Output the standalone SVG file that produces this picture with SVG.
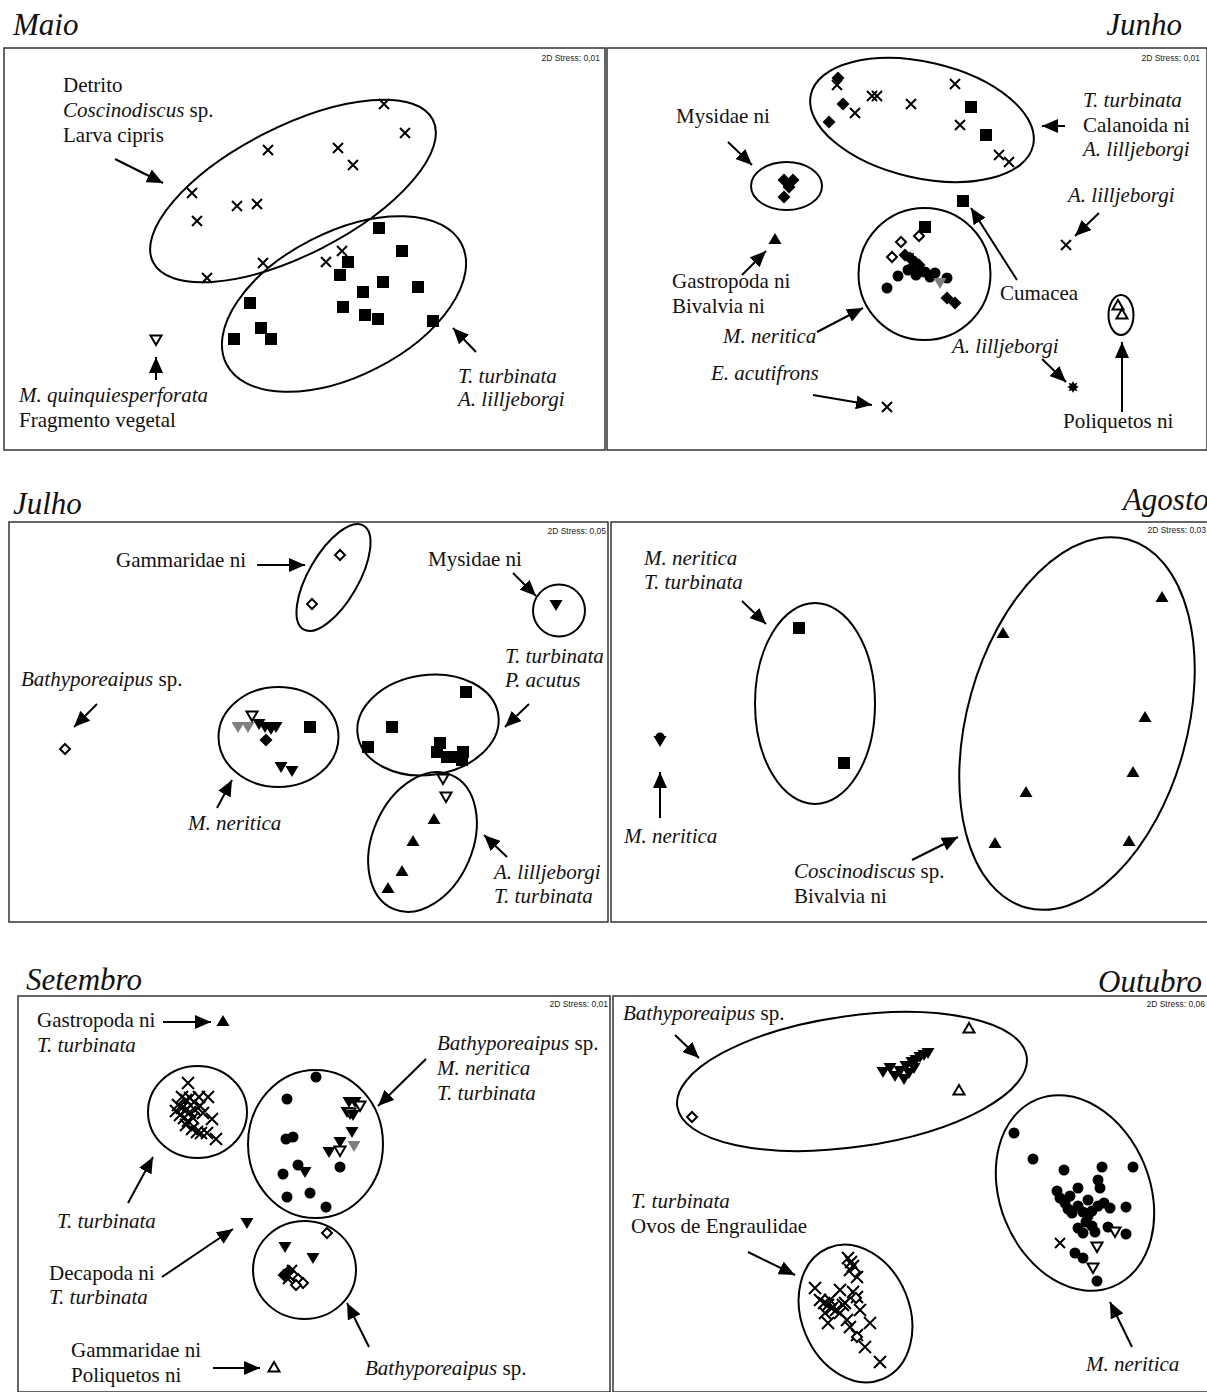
<svg xmlns="http://www.w3.org/2000/svg" width="1207" height="1392" viewBox="0 0 1207 1392">
<style>
  .frame { fill: none; stroke: #333; stroke-width: 1.5; }
  .hull { fill: none; stroke: #000; stroke-width: 2; }
  .lb { font-family: "Liberation Serif", "Times New Roman", serif; font-size: 21px; fill: #111; }
  .it { font-style: italic; }
  .ttl { font-family: "Liberation Serif", "Times New Roman", serif; font-size: 31px; font-style: italic; fill: #111; }
  .st { font-family: "Liberation Sans", Arial, sans-serif; font-size: 8.5px; fill: #222; text-anchor: end; }
  .arr { stroke: #000; stroke-width: 2; fill: none; marker-end: url(#head); }
  .f { fill: #000; }
  .g { fill: #808080; }
  .o { fill: #fff; stroke: #000; stroke-width: 2; }
  .x { stroke: #000; stroke-width: 2; fill: none; }
</style>
<defs>
  <marker id="head" markerUnits="userSpaceOnUse" markerWidth="16" markerHeight="14" viewBox="0 0 16 14" refX="16" refY="7" orient="auto">
    <path d="M0,0 L16,7 L0,14 z" fill="#000"/>
  </marker>
  <rect id="sq" class="f" x="-6" y="-6" width="12" height="12"/>
  <path id="cr" class="x" d="M-5,-5 L5,5 M-5,5 L5,-5"/>
  <path id="crL" class="x" d="M-6,-6 L6,6 M-6,6 L6,-6"/>
  <polygon id="tu" class="f" points="0,-6 6.5,5 -6.5,5"/>
  <polygon id="td" class="f" points="-6.5,-5 6.5,-5 0,6"/>
  <polygon id="gtd" class="g" points="-6.5,-5 6.5,-5 0,6"/>
  <polygon id="otu" class="o" points="0,-5 5.5,4.5 -5.5,4.5"/>
  <polygon id="otd" class="o" points="-5.5,-4.5 5.5,-4.5 0,5"/>
  <polygon id="od" class="o" points="0,-5 5,0 0,5 -5,0"/>
  <polygon id="fd" class="f" points="0,-6.5 6.5,0 0,6.5 -6.5,0"/>
  <circle id="ci" class="f" r="5.5"/>
  <polygon id="sr" class="f" points="6,0 3.23,1.34 4.24,4.24 1.34,3.23 0,6 -1.34,3.23 -4.24,4.24 -3.23,1.34 -6,0 -3.23,-1.34 -4.24,-4.24 -1.34,-3.23 0,-6 1.34,-3.23 4.24,-4.24 3.23,-1.34"/>
</defs>

<rect width="1207" height="1392" fill="#fff"/>

<!-- ===== Maio ===== -->
<g id="maio">
  <text class="ttl" x="13" y="35">Maio</text>
  <rect class="frame" x="4" y="48" width="601" height="402"/>
  <text class="st" x="600" y="61">2D Stress: 0,01</text>
  <g id="maio-detrito">
    <ellipse class="hull" cx="293" cy="191" rx="157" ry="64" transform="rotate(-27 293 191)"/>
    <use href="#cr" x="268" y="150"/><use href="#cr" x="192" y="193"/><use href="#cr" x="237" y="206"/>
    <use href="#cr" x="257" y="204"/><use href="#cr" x="197" y="221"/><use href="#cr" x="263" y="263"/>
    <use href="#cr" x="207" y="278"/><use href="#cr" x="384" y="104"/><use href="#cr" x="405" y="133"/>
    <use href="#cr" x="338" y="148"/><use href="#cr" x="353" y="165"/><use href="#cr" x="342" y="251"/>
    <use href="#cr" x="326" y="262"/>
    <text class="lb" x="63" y="92">Detrito</text>
    <text class="lb" x="63" y="117"><tspan class="it">Coscinodiscus</tspan> sp.</text>
    <text class="lb" x="63" y="142">Larva cipris</text>
  </g>
  <g id="maio-turbinata">
    <ellipse class="hull" cx="344" cy="304" rx="132" ry="72" transform="rotate(-27 344 304)"/>
    <use href="#sq" x="379" y="228"/><use href="#sq" x="402" y="251"/><use href="#sq" x="348" y="262"/>
    <use href="#sq" x="340" y="275"/><use href="#sq" x="383" y="282"/><use href="#sq" x="418" y="287"/>
    <use href="#sq" x="363" y="292"/><use href="#sq" x="343" y="307"/><use href="#sq" x="365" y="315"/>
    <use href="#sq" x="378" y="319"/><use href="#sq" x="433" y="321"/><use href="#sq" x="250" y="303"/>
    <use href="#sq" x="261" y="328"/><use href="#sq" x="271" y="339"/><use href="#sq" x="234" y="339"/>
    <text class="lb it" x="458" y="383">T. turbinata</text>
    <text class="lb it" x="458" y="406">A. lilljeborgi</text>
  </g>
  <g id="maio-quinq">
    <use href="#otd" x="156" y="340"/>
    <text class="lb it" x="19" y="402">M. quinquiesperforata</text>
    <text class="lb" x="19" y="427">Fragmento vegetal</text>
  </g>
</g>

<!-- ===== Junho ===== -->
<g id="junho">
  <text class="ttl" x="1182" y="35" text-anchor="end">Junho</text>
  <rect class="frame" x="607" y="48" width="600" height="402"/>
  <text class="st" x="1200" y="61">2D Stress: 0,01</text>
  <g id="junho-top">
    <ellipse class="hull" cx="922" cy="120" rx="114" ry="58" transform="rotate(13 922 120)"/>
    <use href="#fd" x="838" y="78"/><use href="#fd" x="843" y="104"/><use href="#fd" x="829" y="122"/>
    <use href="#cr" x="837" y="85"/><use href="#cr" x="872" y="96"/><use href="#cr" x="877" y="96"/>
    <use href="#cr" x="855" y="113"/><use href="#cr" x="911" y="104"/><use href="#cr" x="955" y="84"/>
    <use href="#cr" x="960" y="125"/><use href="#cr" x="999" y="155"/><use href="#cr" x="1009" y="162"/>
    <use href="#sq" x="971" y="107"/><use href="#sq" x="986" y="135"/>
    <text class="lb it" x="1083" y="107">T. turbinata</text>
    <text class="lb" x="1083" y="132">Calanoida ni</text>
    <text class="lb it" x="1083" y="156">A. lilljeborgi</text>
  </g>
  <g id="junho-mysidae">
    <ellipse class="hull" cx="786.5" cy="186" rx="35.5" ry="24"/>
    <use href="#fd" x="784" y="180"/><use href="#fd" x="793" y="180"/><use href="#fd" x="789" y="187"/><use href="#fd" x="784" y="197"/>
    <text class="lb" x="676" y="123">Mysidae ni</text>
  </g>
  <g id="junho-gastropoda">
    <use href="#tu" x="775" y="239"/>
    <text class="lb" x="672" y="288">Gastropoda ni</text>
    <text class="lb" x="672" y="313">Bivalvia ni</text>
  </g>
  <g id="junho-neritica">
    <ellipse class="hull" cx="924.5" cy="274" rx="66" ry="66"/>
    <use href="#od" x="901" y="242"/><use href="#od" x="892" y="257"/><use href="#od" x="919" y="236"/>
    <use href="#sq" x="925" y="227"/>
    <use href="#fd" x="905" y="255"/><use href="#fd" x="911" y="259"/><use href="#fd" x="915" y="262"/>
    <use href="#fd" x="919" y="265"/><use href="#fd" x="912" y="267"/><use href="#fd" x="921" y="271"/>
    <use href="#sr" x="910" y="257"/>
    <use href="#ci" x="898" y="276"/><use href="#ci" x="887" y="288"/><use href="#ci" x="908" y="270"/>
    <use href="#ci" x="916" y="275"/><use href="#ci" x="925" y="272"/><use href="#ci" x="930" y="277"/>
    <use href="#ci" x="935" y="273"/><use href="#ci" x="947" y="278"/>
    <use href="#gtd" x="940" y="283"/>
    <use href="#fd" x="947" y="298"/><use href="#fd" x="955" y="303"/>
    <text class="lb it" x="723" y="343">M. neritica</text>
  </g>
  <g id="junho-cumacea">
    <use href="#sq" x="963" y="201"/>
    <text class="lb" x="1000" y="300">Cumacea</text>
  </g>
  <g id="junho-lillj1">
    <use href="#cr" x="1066" y="245"/>
    <text class="lb it" x="1068" y="202">A. lilljeborgi</text>
  </g>
  <g id="junho-lillj2">
    <use href="#sr" x="1073" y="387"/>
    <text class="lb it" x="952" y="353">A. lilljeborgi</text>
  </g>
  <g id="junho-acutifrons">
    <use href="#cr" x="887" y="407"/>
    <text class="lb it" x="711" y="380">E. acutifrons</text>
  </g>
  <g id="junho-poliquetos">
    <ellipse class="hull" cx="1121" cy="315" rx="12.5" ry="20"/>
    <use href="#otu" x="1118" y="305"/><use href="#otu" x="1122" y="314"/>
    <text class="lb" x="1063" y="428">Poliquetos ni</text>
  </g>
</g>

<!-- ===== Julho ===== -->
<g id="julho">
  <text class="ttl" x="13" y="514">Julho</text>
  <rect class="frame" x="9" y="522" width="599" height="400"/>
  <text class="st" x="606" y="534">2D Stress: 0,05</text>
  <g id="julho-gammaridae">
    <ellipse class="hull" cx="333.5" cy="577.5" rx="60" ry="25" transform="rotate(-60 333.5 577.5)"/>
    <use href="#od" x="340" y="555"/><use href="#od" x="312" y="604"/>
    <text class="lb" x="116" y="567">Gammaridae ni</text>
  </g>
  <g id="julho-mysidae">
    <circle class="hull" cx="559" cy="610.5" r="26"/>
    <use href="#td" x="556" y="605"/>
    <text class="lb" x="428" y="566">Mysidae ni</text>
  </g>
  <g id="julho-bathy">
    <use href="#od" x="65" y="749"/>
    <text class="lb" x="21" y="686"><tspan class="it">Bathyporeaipus</tspan> sp.</text>
  </g>
  <g id="julho-neritica">
    <ellipse class="hull" cx="278.5" cy="737" rx="60" ry="50"/>
    <use href="#gtd" x="238" y="727"/><use href="#gtd" x="248" y="727"/>
    <use href="#otd" x="252" y="716"/>
    <use href="#td" x="259" y="724"/><use href="#td" x="265" y="727"/><use href="#td" x="271" y="729"/><use href="#td" x="276" y="727"/>
    <use href="#fd" x="266" y="740"/>
    <use href="#td" x="281" y="767"/><use href="#td" x="292" y="771"/>
    <use href="#sq" x="310" y="727"/>
    <text class="lb it" x="188" y="830">M. neritica</text>
  </g>
  <g id="julho-acutus">
    <ellipse class="hull" cx="428" cy="725" rx="71" ry="50" transform="rotate(-8 428 725)"/>
    <use href="#sq" x="466" y="692"/><use href="#sq" x="392" y="727"/><use href="#sq" x="368" y="747"/>
    <use href="#sq" x="440" y="743"/><use href="#sq" x="437" y="752"/><use href="#sq" x="447" y="757"/>
    <use href="#sq" x="452" y="757"/><use href="#sq" x="463" y="752"/><use href="#sq" x="462" y="760"/>
    <text class="lb it" x="505" y="663">T. turbinata</text>
    <text class="lb it" x="505" y="687">P. acutus</text>
  </g>
  <g id="julho-lillj">
    <ellipse class="hull" cx="422.5" cy="842" rx="73" ry="50" transform="rotate(-66.5 422.5 842)"/>
    <use href="#otd" x="443" y="779"/><use href="#otd" x="446" y="797"/>
    <use href="#tu" x="434" y="819"/><use href="#tu" x="413" y="841"/><use href="#tu" x="402" y="871"/><use href="#tu" x="388" y="888"/>
    <text class="lb it" x="494" y="879">A. lilljeborgi</text>
    <text class="lb it" x="494" y="903">T. turbinata</text>
  </g>
</g>

<!-- ===== Agosto ===== -->
<g id="agosto">
  <text class="ttl" x="1209" y="510" text-anchor="end">Agosto</text>
  <rect class="frame" x="611" y="522" width="597" height="400"/>
  <text class="st" x="1206" y="533">2D Stress: 0,03</text>
  <g id="agosto-turbinata">
    <ellipse class="hull" cx="815" cy="703.5" rx="60" ry="100.5"/>
    <use href="#sq" x="799" y="628"/><use href="#sq" x="844" y="763"/>
    <text class="lb it" x="644" y="565">M. neritica</text>
    <text class="lb it" x="644" y="589">T. turbinata</text>
  </g>
  <g id="agosto-neritica">
    <circle class="f" cx="660" cy="737" r="4.5"/>
    <use href="#td" x="660" y="741"/>
    <text class="lb it" x="624" y="843">M. neritica</text>
  </g>
  <g id="agosto-cosci">
    <ellipse class="hull" cx="1077" cy="723.5" rx="191" ry="110" transform="rotate(-74.4 1077 723.5)"/>
    <use href="#tu" x="1162" y="597"/><use href="#tu" x="1003" y="633"/><use href="#tu" x="1145" y="717"/>
    <use href="#tu" x="1133" y="772"/><use href="#tu" x="1026" y="792"/><use href="#tu" x="995" y="843"/>
    <use href="#tu" x="1129" y="841"/>
    <text class="lb" x="794" y="878"><tspan class="it">Coscinodiscus</tspan> sp.</text>
    <text class="lb" x="794" y="903">Bivalvia ni</text>
  </g>
</g>

<!-- ===== Setembro ===== -->
<g id="setembro">
  <text class="ttl" x="26" y="990">Setembro</text>
  <rect class="frame" x="18" y="996" width="592" height="396"/>
  <text class="st" x="608" y="1007">2D Stress: 0,01</text>
  <g id="set-gastropoda">
    <use href="#tu" x="223" y="1021"/>
    <text class="lb" x="37" y="1027">Gastropoda ni</text>
    <text class="lb it" x="37" y="1052">T. turbinata</text>
  </g>
  <g id="set-turbinata">
    <ellipse class="hull" cx="197.5" cy="1112" rx="49.5" ry="46"/>
    <use href="#crL" x="188" y="1083"/><use href="#crL" x="182" y="1097"/><use href="#crL" x="186" y="1100"/>
    <use href="#crL" x="190" y="1098"/><use href="#crL" x="194" y="1102"/><use href="#crL" x="199" y="1097"/>
    <use href="#crL" x="208" y="1097"/><use href="#crL" x="178" y="1105"/><use href="#crL" x="182" y="1108"/>
    <use href="#crL" x="186" y="1110"/><use href="#crL" x="190" y="1112"/><use href="#crL" x="195" y="1110"/>
    <use href="#crL" x="200" y="1106"/><use href="#crL" x="203" y="1113"/><use href="#crL" x="180" y="1115"/>
    <use href="#crL" x="184" y="1118"/><use href="#crL" x="188" y="1121"/><use href="#crL" x="212" y="1119"/>
    <use href="#crL" x="186" y="1125"/><use href="#crL" x="192" y="1129"/><use href="#crL" x="197" y="1132"/>
    <use href="#crL" x="201" y="1133"/><use href="#crL" x="207" y="1133"/><use href="#crL" x="216" y="1139"/>
    <use href="#crL" x="176" y="1111"/><use href="#crL" x="193" y="1118"/>
    <text class="lb it" x="57" y="1228">T. turbinata</text>
  </g>
  <g id="set-neritica">
    <ellipse class="hull" cx="315.5" cy="1144" rx="67.5" ry="74"/>
    <use href="#ci" x="287" y="1099"/><use href="#ci" x="286" y="1139"/><use href="#ci" x="293" y="1137"/>
    <use href="#ci" x="283" y="1174"/><use href="#ci" x="298" y="1165"/><use href="#ci" x="287" y="1197"/>
    <use href="#ci" x="310" y="1193"/><use href="#ci" x="316" y="1077"/><use href="#ci" x="340" y="1167"/>
    <use href="#ci" x="326" y="1207"/>
    <use href="#td" x="349" y="1102"/><use href="#td" x="355" y="1102"/><use href="#otd" x="360" y="1106"/>
    <use href="#td" x="347" y="1112"/><use href="#otd" x="350" y="1113"/><use href="#td" x="353" y="1115"/>
    <use href="#td" x="352" y="1132"/><use href="#td" x="340" y="1142"/><use href="#td" x="329" y="1152"/>
    <use href="#otd" x="340" y="1151"/><use href="#gtd" x="354" y="1146"/><use href="#td" x="305" y="1172"/>
    <text class="lb it" x="437" y="1050"><tspan>Bathyporeaipus</tspan><tspan font-style="normal"> sp.</tspan></text>
    <text class="lb it" x="437" y="1075">M. neritica</text>
    <text class="lb it" x="437" y="1100">T. turbinata</text>
  </g>
  <g id="set-decapoda">
    <use href="#td" x="247" y="1223"/>
    <text class="lb" x="49" y="1280">Decapoda ni</text>
    <text class="lb it" x="49" y="1304">T. turbinata</text>
  </g>
  <g id="set-bathy">
    <ellipse class="hull" cx="304.5" cy="1270" rx="51.5" ry="49"/>
    <use href="#td" x="285" y="1247"/><use href="#td" x="313" y="1258"/><use href="#od" x="327" y="1233"/>
    <use href="#fd" x="284" y="1275"/><use href="#fd" x="289" y="1271"/>
    <use href="#cr" x="288" y="1279"/><use href="#cr" x="292" y="1270"/>
    <use href="#od" x="294" y="1276"/><use href="#od" x="298" y="1279"/><use href="#od" x="303" y="1283"/><use href="#od" x="296" y="1285"/>
    <text class="lb" x="365" y="1375"><tspan class="it">Bathyporeaipus</tspan> sp.</text>
  </g>
  <g id="set-gammaridae">
    <use href="#otu" x="274" y="1367"/>
    <text class="lb" x="71" y="1357">Gammaridae ni</text>
    <text class="lb" x="71" y="1382">Poliquetos ni</text>
  </g>
</g>

<!-- ===== Outubro ===== -->
<g id="outubro">
  <text class="ttl" x="1202" y="992" text-anchor="end">Outubro</text>
  <rect class="frame" x="613" y="996" width="595" height="396"/>
  <text class="st" x="1205" y="1007">2D Stress: 0,06</text>
  <g id="out-bathy">
    <ellipse class="hull" cx="852" cy="1081.5" rx="176.5" ry="65.5" transform="rotate(-8.1 852 1081.5)"/>
    <use href="#od" x="692" y="1117"/>
    <use href="#td" x="883" y="1072"/><use href="#td" x="890" y="1068"/><use href="#td" x="895" y="1076"/>
    <use href="#td" x="900" y="1071"/><use href="#td" x="904" y="1079"/><use href="#td" x="906" y="1066"/>
    <use href="#td" x="909" y="1073"/><use href="#td" x="912" y="1062"/><use href="#td" x="916" y="1060"/>
    <use href="#td" x="920" y="1057"/><use href="#td" x="924" y="1055"/><use href="#td" x="928" y="1053"/>
    <use href="#td" x="914" y="1068"/>
    <use href="#otu" x="969" y="1028"/><use href="#otu" x="959" y="1090"/>
    <text class="lb" x="623" y="1020"><tspan class="it">Bathyporeaipus</tspan> sp.</text>
  </g>
  <g id="out-turbinata">
    <ellipse class="hull" cx="855.5" cy="1313.5" rx="71" ry="54" transform="rotate(67.3 855.5 1313.5)"/>
    <use href="#crL" x="848" y="1258"/><use href="#crL" x="851" y="1262"/><use href="#crL" x="853" y="1266"/>
    <use href="#crL" x="850" y="1270"/><use href="#crL" x="857" y="1277"/><use href="#crL" x="815" y="1288"/>
    <use href="#crL" x="840" y="1290"/><use href="#crL" x="853" y="1292"/><use href="#crL" x="857" y="1297"/>
    <use href="#crL" x="820" y="1300"/><use href="#crL" x="824" y="1303"/><use href="#crL" x="828" y="1305"/>
    <use href="#crL" x="832" y="1308"/><use href="#crL" x="836" y="1310"/><use href="#crL" x="840" y="1313"/>
    <use href="#crL" x="830" y="1300"/><use href="#crL" x="845" y="1303"/><use href="#crL" x="860" y="1310"/>
    <use href="#crL" x="870" y="1323"/><use href="#crL" x="828" y="1323"/><use href="#crL" x="847" y="1320"/>
    <use href="#crL" x="850" y="1327"/><use href="#crL" x="857" y="1335"/><use href="#crL" x="865" y="1347"/>
    <use href="#crL" x="880" y="1362"/><use href="#crL" x="843" y="1305"/><use href="#crL" x="825" y="1313"/>
    <use href="#od" x="855" y="1272"/><use href="#od" x="857" y="1337"/><use href="#od" x="856" y="1298"/>
    <text class="lb it" x="631" y="1208">T. turbinata</text>
    <text class="lb" x="631" y="1233">Ovos de Engraulidae</text>
  </g>
  <g id="out-neritica">
    <ellipse class="hull" cx="1075" cy="1193" rx="101" ry="75" transform="rotate(67.9 1075 1193)"/>
    <use href="#ci" x="1014" y="1133"/><use href="#ci" x="1033" y="1159"/><use href="#ci" x="1064" y="1170"/>
    <use href="#ci" x="1102" y="1167"/><use href="#ci" x="1133" y="1167"/><use href="#ci" x="1098" y="1180"/>
    <use href="#ci" x="1100" y="1188"/><use href="#ci" x="1078" y="1188"/><use href="#ci" x="1057" y="1191"/>
    <use href="#ci" x="1060" y="1198"/><use href="#ci" x="1065" y="1203"/><use href="#ci" x="1068" y="1209"/>
    <use href="#ci" x="1072" y="1213"/><use href="#ci" x="1078" y="1206"/><use href="#ci" x="1083" y="1212"/>
    <use href="#ci" x="1088" y="1216"/><use href="#ci" x="1092" y="1211"/><use href="#ci" x="1098" y="1206"/>
    <use href="#ci" x="1104" y="1203"/><use href="#ci" x="1110" y="1208"/><use href="#ci" x="1086" y="1222"/>
    <use href="#ci" x="1092" y="1226"/><use href="#ci" x="1078" y="1228"/><use href="#ci" x="1083" y="1233"/>
    <use href="#ci" x="1095" y="1232"/><use href="#ci" x="1126" y="1207"/><use href="#ci" x="1126" y="1234"/>
    <use href="#ci" x="1108" y="1227"/><use href="#ci" x="1075" y="1253"/><use href="#ci" x="1083" y="1258"/>
    <use href="#ci" x="1097" y="1281"/><use href="#ci" x="1070" y="1196"/><use href="#ci" x="1088" y="1200"/>
    <use href="#cr" x="1060" y="1243"/>
    <use href="#otd" x="1115" y="1232"/><use href="#otd" x="1097" y="1247"/><use href="#otd" x="1093" y="1268"/>
    <text class="lb it" x="1086" y="1371">M. neritica</text>
  </g>
</g>

<!-- ===== label arrows ===== -->
<g id="arrows">
  <line class="arr" x1="115" y1="159" x2="163" y2="183"/>
  <line class="arr" x1="476" y1="352" x2="453" y2="328"/>
  <line class="arr" x1="156" y1="380" x2="156" y2="357"/>

  <line class="arr" x1="728" y1="142" x2="752" y2="165"/>
  <line class="arr" x1="742" y1="275" x2="766" y2="251"/>
  <line class="arr" x1="817" y1="332" x2="863" y2="308"/>
  <line class="arr" x1="813" y1="395" x2="872" y2="405"/>
  <line class="arr" x1="1065" y1="126" x2="1042" y2="126"/>
  <line class="arr" x1="1017" y1="280" x2="971" y2="208"/>
  <line class="arr" x1="1099" y1="213" x2="1075" y2="236"/>
  <line class="arr" x1="1042" y1="359" x2="1066" y2="382"/>
  <line class="arr" x1="1122" y1="412" x2="1122" y2="342"/>

  <line class="arr" x1="257" y1="565" x2="305" y2="565"/>
  <line class="arr" x1="513" y1="573" x2="536" y2="596"/>
  <line class="arr" x1="529" y1="704" x2="505" y2="727"/>
  <line class="arr" x1="507" y1="857" x2="484" y2="835"/>
  <line class="arr" x1="217" y1="808" x2="232" y2="780"/>
  <line class="arr" x1="97" y1="704" x2="74" y2="727"/>

  <line class="arr" x1="742" y1="601" x2="766" y2="624"/>
  <line class="arr" x1="660" y1="818" x2="660" y2="772"/>
  <line class="arr" x1="912" y1="860" x2="958" y2="837"/>

  <line class="arr" x1="163" y1="1022" x2="211" y2="1022"/>
  <line class="arr" x1="128" y1="1203" x2="153" y2="1157"/>
  <line class="arr" x1="162" y1="1277" x2="233" y2="1229"/>
  <line class="arr" x1="213" y1="1368" x2="260" y2="1368"/>
  <line class="arr" x1="369" y1="1347" x2="347" y2="1303"/>
  <line class="arr" x1="426" y1="1059" x2="378" y2="1106"/>

  <line class="arr" x1="675" y1="1035" x2="699" y2="1058"/>
  <line class="arr" x1="748" y1="1252" x2="795" y2="1275"/>
  <line class="arr" x1="1132" y1="1347" x2="1110" y2="1302"/>
</g>
</svg>
